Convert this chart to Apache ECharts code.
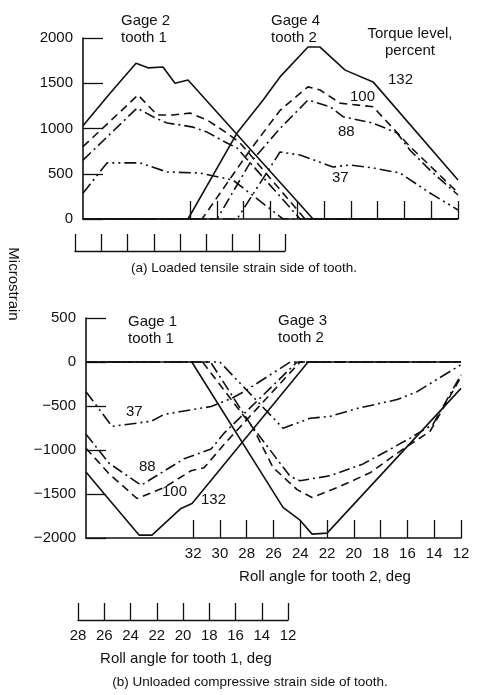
<!DOCTYPE html>
<html>
<head>
<meta charset="utf-8">
<script src="https://cdn.jsdelivr.net/npm/echarts@6/dist/echarts.min.js"></script>
<style>
  html, body { margin: 0; padding: 0; background: #fff; }
  #chart { width: 478px; height: 695px; }
</style>
</head>
<body>
<div id="chart"></div>
<script>
// Roll angle scales (deg)
const tooth2Ticks = [32, 30, 28, 26, 24, 22, 20, 18, 16, 14, 12];
const tooth1Ticks = [28, 26, 24, 22, 20, 18, 16, 14, 12];

// (a) Loaded tensile strain side — Gage 2 on tooth 1, [roll angle tooth 2, microstrain]
const gage2_132 = [[40, 1030], [37.98, 1390], [36.04, 1720], [35.15, 1670], [34.03, 1680], [33.13, 1500], [32.16, 1535], [22.82, 0], [12, 0]];
const gage2_100 = [[40, 800], [35.89, 1370], [34.47, 1150], [33.28, 1150], [32.01, 1170], [30.74, 1095], [29.25, 950], [28.27, 840], [23.42, 0], [12, 0]];
const gage2_88  = [[40, 650], [35.97, 1225], [34.77, 1130], [33.73, 1060], [32.76, 1040], [31.78, 1015], [30.74, 960], [29.25, 840], [28.5, 785], [23.79, 0], [12, 0]];
const gage2_37  = [[40, 285], [38.21, 620], [35.74, 620], [33.73, 520], [31.26, 508], [28.8, 430], [25.06, 0], [12, 0]];

// (a) Gage 4 on tooth 2
const gage4_132 = [[40, 0], [32.16, 0], [28.5, 950], [26.55, 1315], [25.29, 1570], [23.2, 1900], [22.3, 1900], [20.43, 1645], [18.34, 1515], [12, 430]];
const gage4_100 = [[40, 0], [31.11, 0], [27.53, 760], [25.29, 1200], [24.02, 1360], [23.2, 1460], [22.3, 1425], [20.81, 1280], [18.34, 1240], [15.58, 800], [12, 290]];
const gage4_88  = [[40, 0], [29.99, 0], [27.53, 620], [25.29, 1000], [23.2, 1315], [21.55, 1240], [20.58, 1130], [18.34, 1060], [16.55, 950], [15.58, 760], [14.09, 540], [12, 265]];
const gage4_37  = [[40, 0], [28.5, 0], [25.29, 740], [23.79, 707], [21.33, 575], [20.06, 597], [18.34, 564], [16.33, 508], [14.09, 287], [12, 100]];

// (b) Unloaded compressive strain side — Gage 1 on tooth 1
const gage1_132 = [[40, -1250], [38.66, -1495], [36.04, -1967], [35.07, -1967], [32.91, -1664], [32.08, -1607], [23.42, 0], [12, 0]];
const gage1_100 = [[40, -980], [38.28, -1270], [36.19, -1551], [34.17, -1427], [32.16, -1236], [31.19, -1202], [29.47, -899], [24.02, 0], [12, 0]];
const gage1_88  = [[40, -820], [38.28, -1150], [35.89, -1400], [32.68, -1100], [30.66, -989], [29.69, -809], [24.24, 0], [12, 0]];
const gage1_37  = [[40, -337], [38.06, -731], [35.15, -674], [34.17, -596], [32.91, -562], [30.66, -506], [29.17, -416], [28.2, -337], [24.76, 0], [12, 0]];

// (b) Gage 3 on tooth 2
const gage3_132 = [[40, 0], [32.1, 0], [25.29, -1652], [24.02, -1798], [23.12, -1956], [22.0, -1945], [12, -300]];
const gage3_100 = [[40, 0], [31.3, 0], [27.53, -750], [26.03, -1200], [24.24, -1450], [23.12, -1540], [21.25, -1427], [18.79, -1259], [16.33, -990], [14.31, -787], [12, -169]];
const gage3_88  = [[40, 0], [30.7, 0], [27.75, -700], [25.51, -1150], [24.76, -1300], [24.02, -1349], [21.78, -1293], [19.31, -1158], [17.52, -1011], [15.8, -865], [14.09, -708], [12, -146]];
const gage3_37  = [[40, 0], [30.0, 0], [25.29, -753], [23.27, -640], [21.78, -618], [19.76, -528], [16.77, -427], [15.28, -337], [14.09, -225], [12, -30]];

// Torque levels, percent, and the dash pattern used for each
const torqueLevels = ['132', '100', '88', '37'];
const dashByTorque = {
  '132': 'solid',
  '100': [8, 5],
  '88': [11, 4, 2, 4],
  '37': [12, 4, 2, 4, 2, 4]
};

const INK = '#111';
const FAMILY = '"Liberation Sans", Arial, Helvetica, sans-serif';
const FONT = '15px ' + FAMILY;
const CAPTION_FONT = '13.5px ' + FAMILY;

function lineSeries(name, data, torque, gridIdx) {
  return {
    name: name,
    type: 'line',
    xAxisIndex: gridIdx,
    yAxisIndex: gridIdx,
    data: data,
    symbol: 'none',
    silent: true,
    animation: false,
    lineStyle: { color: INK, width: 1.6, type: dashByTorque[torque] }
  };
}

const minusFmt = v => (v < 0 ? '\u2212' + Math.abs(v) : String(v));

function plotX(gridIdx, showLabels) {
  return {
    gridIndex: gridIdx,
    type: 'value',
    min: 12, max: 40,
    inverse: true,
    axisLine: { show: true, onZero: false, lineStyle: { color: INK, width: 1.6 } },
    axisTick: { show: true, inside: true, length: 18, customValues: tooth2Ticks, lineStyle: { color: INK, width: 1.3 } },
    axisLabel: { show: showLabels, customValues: tooth2Ticks, color: INK, fontFamily: FAMILY, fontSize: 15, margin: 8 },
    splitLine: { show: false }
  };
}

function stripX(gridIdx, showLabels) {
  return {
    gridIndex: gridIdx,
    type: 'value',
    min: 12, max: 28, interval: 2,
    inverse: true,
    axisLine: { show: true, lineStyle: { color: INK, width: 1.4 } },
    axisTick: { show: true, inside: true, length: 17, customValues: tooth1Ticks, lineStyle: { color: INK, width: 1.3 } },
    axisLabel: { show: showLabels, customValues: tooth1Ticks, color: INK, fontFamily: FAMILY, fontSize: 15, margin: 8 },
    splitLine: { show: false }
  };
}

function plotY(gridIdx, min, max) {
  return {
    gridIndex: gridIdx,
    type: 'value',
    min: min, max: max, interval: 500,
    axisLine: { show: true, lineStyle: { color: INK, width: 1.6 } },
    axisTick: { show: true, inside: true, length: 20, lineStyle: { color: INK, width: 1.3 } },
    axisLabel: { color: INK, fontFamily: FAMILY, fontSize: 15, margin: 10, formatter: minusFmt },
    splitLine: { show: false }
  };
}

function hiddenY(gridIdx) {
  return { gridIndex: gridIdx, type: 'value', min: 0, max: 1, show: false };
}

function txt(x, y, text, align, font) {
  return {
    type: 'text', x: x, y: y, silent: true,
    style: { text: text, font: font || FONT, fill: INK, textAlign: align || 'left', textVerticalAlign: 'middle', lineHeight: 17 }
  };
}

const series = [];
const groups = [
  [[gage2_132, gage2_100, gage2_88, gage2_37], 'Gage 2', 0],
  [[gage4_132, gage4_100, gage4_88, gage4_37], 'Gage 4', 0],
  [[gage1_132, gage1_100, gage1_88, gage1_37], 'Gage 1', 1],
  [[gage3_132, gage3_100, gage3_88, gage3_37], 'Gage 3', 1]
];
groups.forEach(([sets, gage, g]) => {
  sets.forEach((d, i) => series.push(lineSeries(gage + ' ' + torqueLevels[i], d, torqueLevels[i], g)));
});

const chart = echarts.init(document.getElementById('chart'), null, { renderer: 'canvas' });
chart.setOption({
  backgroundColor: '#fff',
  animation: false,
  grid: [
    { left: 83, top: 38, width: 375, height: 181 },
    { left: 86, top: 318, width: 375, height: 220 },
    { left: 75, top: 234, width: 210, height: 17 },
    { left: 78, top: 603, width: 210, height: 17 }
  ],
  xAxis: [plotX(0, false), plotX(1, true), stripX(2, false), stripX(3, true)],
  yAxis: [plotY(0, 0, 2000), plotY(1, -2000, 500), hiddenY(2), hiddenY(3)],
  series: series,
  graphic: [
    txt(121, 29, 'Gage 2\ntooth 1'),
    txt(271, 29, 'Gage 4\ntooth 2'),
    txt(410, 42, 'Torque level,\npercent', 'center'),
    txt(388, 80, '132'),
    txt(350, 97, '100'),
    txt(338, 132, '88'),
    txt(332, 178, '37'),
    txt(244, 268, '(a) Loaded tensile strain side of tooth.', 'center', CAPTION_FONT),
    {
      type: 'text', x: 13, y: 284, rotation: -Math.PI / 2, silent: true,
      style: { text: 'Microstrain', font: FONT, fill: INK, textAlign: 'center', textVerticalAlign: 'middle' }
    },
    txt(128, 330, 'Gage 1\ntooth 1'),
    txt(278, 329, 'Gage 3\ntooth 2'),
    txt(126, 412, '37'),
    txt(139, 467, '88'),
    txt(162, 492, '100'),
    txt(201, 500, '132'),
    txt(325, 577, 'Roll angle for tooth 2, deg', 'center'),
    txt(186, 659, 'Roll angle for tooth 1, deg', 'center'),
    txt(250, 682, '(b) Unloaded compressive strain side of tooth.', 'center', CAPTION_FONT)
  ]
});
</script>
</body>
</html>
